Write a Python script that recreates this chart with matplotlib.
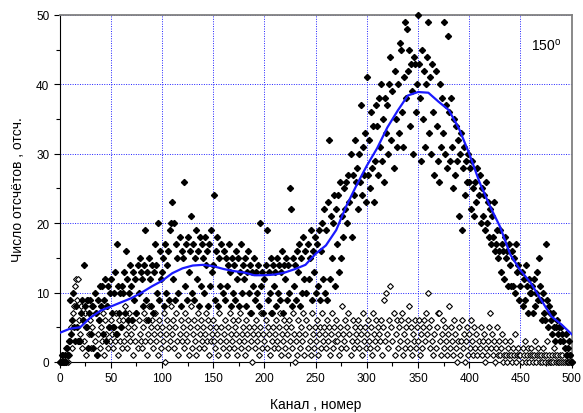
import numpy as np
import matplotlib.pyplot as plt
from matplotlib.ticker import MultipleLocator

plt.rcParams['font.family'] = ['Liberation Sans', 'DejaVu Sans']
plt.rcParams['mathtext.fontset'] = 'custom'
plt.rcParams['mathtext.rm'] = 'Liberation Sans'

# counts per channel, channels 0..500
signal = [
    0, 0, 1, 0, 0, 1, 0, 2, 1, 3, 9, 4, 6, 10, 5, 3, 8, 5, 3, 3,
    3, 7, 9, 6, 14, 8, 5, 9, 2, 7, 9, 4, 8, 2, 10, 7, 1, 9, 6, 11,
    8, 11, 4, 9, 12, 3, 8, 11, 5, 10, 12, 7, 5, 10, 13, 4, 17, 11, 7, 10,
    5, 11, 10, 13, 7, 16, 12, 6, 10, 14, 11, 6, 13, 9, 12, 7, 14, 10, 15, 13,
    12, 8, 14, 19, 9, 13, 6, 15, 12, 8, 14, 7, 13, 17, 14, 10, 20, 9, 16, 12,
    13, 15, 8, 17, 10, 14, 16, 9, 19, 20, 23, 12, 20, 9, 17, 15, 10, 18, 8, 16,
    15, 26, 11, 17, 9, 18, 13, 16, 21, 10, 17, 9, 15, 19, 12, 16, 8, 18, 11, 17,
    15, 10, 18, 14, 16, 8, 17, 11, 19, 13, 14, 24, 9, 16, 18, 8, 15, 11, 17, 10,
    16, 9, 15, 11, 14, 17, 13, 8, 15, 10, 14, 9, 16, 12, 15, 8, 13, 17, 10, 14,
    12, 15, 8, 13, 16, 10, 14, 7, 13, 11, 15, 9, 13, 10, 14, 8, 20, 11, 13, 7,
    12, 14, 19, 9, 13, 10, 15, 7, 14, 11, 13, 8, 15, 10, 14, 9, 13, 16, 7, 14,
    12, 15, 9, 14, 10, 25, 22, 8, 15, 11, 14, 9, 16, 13, 17, 8, 15, 10, 18, 12,
    16, 10, 17, 12, 15, 19, 9, 16, 13, 18, 10, 17, 11, 19, 9, 16, 20, 12, 22, 10,
    19, 9, 23, 32, 12, 21, 15, 20, 24, 11, 22, 17, 24, 13, 26, 15, 21, 18, 25, 22,
    26, 20, 27, 23, 30, 18, 27, 24, 32, 26, 28, 22, 30, 26, 37, 24, 31, 27, 33, 23,
    41, 27, 32, 25, 36, 28, 34, 23, 29, 37, 34, 27, 38, 31, 40, 29, 35, 26, 38, 33,
    37, 30, 40, 44, 32, 39, 28, 42, 35, 31, 40, 33, 46, 45, 36, 31, 41, 49, 38, 48,
    42, 45, 34, 43, 39, 30, 44, 43, 36, 40, 50, 43, 38, 29, 45, 35, 42, 31, 40, 44,
    49, 33, 41, 30, 43, 36, 27, 42, 34, 29, 26, 40, 31, 38, 33, 49, 30, 37, 28, 47,
    36, 29, 38, 31, 25, 35, 27, 34, 29, 32, 21, 30, 33, 19, 28, 31, 24, 29, 26, 30,
    26, 28, 22, 29, 25, 21, 26, 23, 28, 24, 27, 20, 25, 21, 24, 19, 26, 20, 23, 18,
    22, 17, 21, 18, 23, 16, 17, 19, 15, 16, 19, 13, 17, 16, 12, 18, 15, 16, 11, 17,
    14, 11, 16, 11, 15, 10, 17, 13, 14, 9, 11, 13, 8, 12, 9, 14, 11, 7, 12, 10,
    10, 11, 7, 12, 8, 10, 13, 9, 15, 11, 9, 6, 10, 7, 6, 17, 9, 5, 8, 7,
    6, 4, 7, 5, 3, 5, 6, 4, 5, 3, 5, 4, 3, 2, 4, 1, 2, 3, 1, 0,
    0,
]

background = [
    0, 0, 0, 1, 0, 0, 2, 1, 0, 1, 3, 5, 2, 7, 8, 11, 12, 9, 12, 6,
    4, 8, 2, 6, 3, 7, 1, 5, 9, 4, 6, 2, 5, 8, 3, 7, 1, 4, 6, 2,
    5, 3, 7, 1, 6, 4, 8, 2, 5, 3, 6, 4, 2, 5, 3, 7, 4, 1, 6, 3,
    5, 2, 6, 3, 8, 4, 2, 5, 7, 3, 4, 6, 1, 5, 3, 7, 2, 6, 4, 3,
    2, 5, 7, 3, 6, 1, 4, 8, 3, 5, 6, 2, 4, 7, 3, 5, 1, 6, 4, 2,
    5, 3, 7, 0, 4, 6, 2, 5, 3, 8, 4, 6, 2, 5, 7, 3, 1, 4, 6, 3,
    5, 2, 7, 4, 3, 6, 1, 5, 8, 2, 4, 6, 3, 1, 5, 7, 2, 4, 6, 3,
    5, 2, 4, 7, 3, 6, 1, 5, 3, 4, 6, 3, 2, 5, 4, 1, 7, 3, 5, 2,
    4, 6, 3, 1, 5, 2, 7, 4, 3, 6, 2, 5, 4, 1, 6, 3, 7, 2, 4, 5,
    3, 1, 6, 4, 2, 5, 7, 3, 0, 4, 5, 2, 6, 3, 4, 1, 5, 7, 2, 4,
    3, 6, 2, 5, 4, 1, 7, 3, 5, 2, 4, 6, 3, 2, 5, 7, 1, 4, 3, 6,
    2, 5, 4, 1, 6, 3, 5, 2, 7, 4, 0, 3, 1, 6, 4, 2, 5, 3, 7, 1,
    4, 6, 2, 5, 3, 1, 7, 4, 2, 5, 3, 6, 1, 4, 5, 2, 7, 3, 5, 4,
    2, 6, 3, 5, 1, 4, 7, 2, 5, 3, 6, 3, 4, 1, 5, 2, 8, 4, 3, 6,
    2, 5, 7, 4, 1, 3, 6, 2, 5, 4, 3, 6, 2, 5, 4, 1, 7, 3, 5, 2,
    4, 6, 3, 2, 5, 1, 7, 4, 3, 6, 2, 5, 4, 3, 6, 1, 5, 9, 3, 10,
    4, 2, 6, 11, 5, 3, 7, 1, 4, 6, 2, 5, 3, 6, 7, 1, 4, 2, 5, 3,
    6, 8, 2, 5, 1, 4, 3, 6, 2, 5, 3, 6, 1, 4, 2, 5, 6, 3, 7, 4,
    10, 5, 2, 6, 3, 1, 4, 2, 5, 7, 7, 3, 1, 4, 6, 2, 5, 3, 1, 4,
    8, 2, 5, 3, 1, 6, 4, 2, 0, 3, 5, 1, 3, 6, 2, 4, 0, 3, 5, 1,
    4, 2, 6, 3, 1, 5, 2, 4, 1, 3, 2, 5, 1, 3, 4, 0, 2, 1, 3, 5,
    7, 2, 4, 1, 3, 0, 2, 5, 1, 3, 1, 2, 4, 0, 1, 3, 1, 0, 2, 1,
    3, 1, 0, 2, 1, 4, 0, 1, 2, 1, 1, 0, 2, 1, 3, 0, 1, 2, 0, 1,
    2, 1, 0, 1, 3, 0, 1, 2, 1, 0, 1, 0, 2, 1, 0, 1, 3, 0, 1, 0,
    0, 1, 0, 2, 1, 0, 1, 0, 0, 1, 0, 1, 0, 0, 1, 0, 0, 0, 1, 0,
    0,
]

# smoothed spectrum, every 10 channels
smooth_ch = list(range(0, 501, 10))
smooth = [
    4.2, 4.8, 5.0, 6.4, 7.4, 8.0, 8.6, 9.2, 10.0, 10.9,
    11.7, 12.8, 13.5, 13.9, 14.0, 13.8, 13.4, 13.1, 12.9, 12.5,
    12.5, 12.6, 12.9, 13.4, 14.0, 15.6, 16.8, 19.0, 22.5, 25.5,
    28.3, 30.8, 33.8, 36.2, 38.4, 38.9, 38.8, 37.5, 36.3, 33.6,
    30.0, 25.9, 22.5, 19.5, 15.5, 13.2, 11.4, 9.0, 6.6, 5.4,
    4.0,
]

ch = np.arange(len(signal))
ch_bg = np.arange(len(background))

fig = plt.figure(figsize=(5.83, 4.14), dpi=100)
ax = fig.add_axes([0.1024, 0.1232, 0.8782, 0.8382])

ax.plot(ch_bg, background, linestyle='none', marker='D', markersize=3.0,
        markerfacecolor='white', markeredgecolor='black', markeredgewidth=0.8,
        clip_on=False, zorder=3)
ax.plot(ch, signal, linestyle='none', marker='D', markersize=3.1,
        color='black', clip_on=False, zorder=4)
ax.plot(smooth_ch, smooth, color='#1a1aff', linewidth=1.6, zorder=5)

ax.set_xlim(0, 500)
ax.set_ylim(0, 50)
ax.xaxis.set_major_locator(MultipleLocator(50))
ax.xaxis.set_minor_locator(MultipleLocator(25))
ax.yaxis.set_major_locator(MultipleLocator(10))
ax.yaxis.set_minor_locator(MultipleLocator(5))
ax.tick_params(which='both', direction='out', labelsize=8.5, width=0.8)
ax.tick_params(which='major', length=4)
ax.tick_params(which='minor', length=3)

ax.grid(True, which='major', color='#2020ff', linestyle=(0, (1, 1.5)), linewidth=0.7)
ax.set_axisbelow(True)

for side in ('top', 'right'):
    ax.spines[side].set_color('#808080')
    ax.spines[side].set_linewidth(1.3)

ax.set_xlabel('Канал , номер', fontsize=10, labelpad=9)
ax.set_ylabel('Число отсчётов , отсч.', fontsize=10, labelpad=8)
ax.text(460, 45, r'150$^{\rm o}$', fontsize=10)

fig.savefig('out.png', dpi=100)
